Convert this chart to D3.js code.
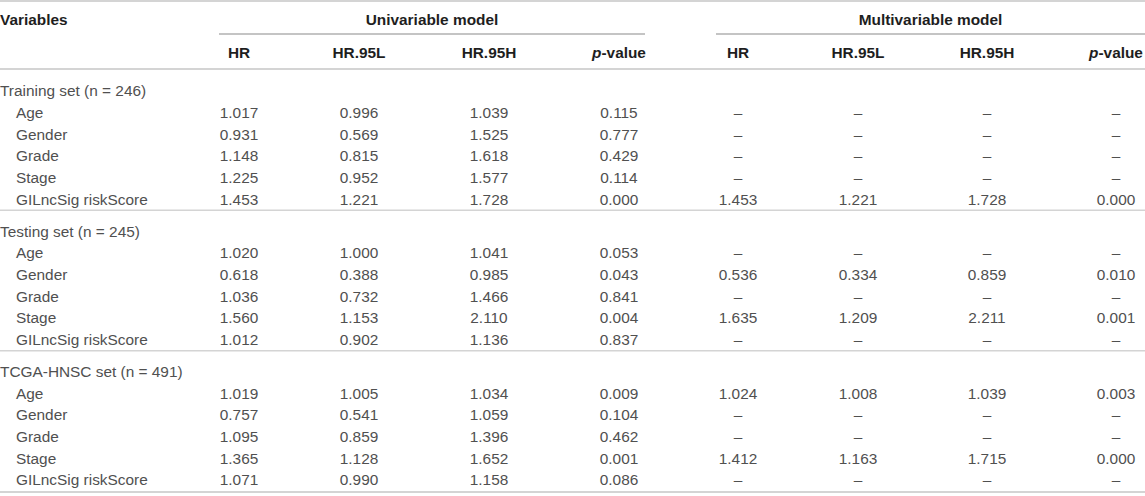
<!DOCTYPE html>
<html>
<head>
<meta charset="utf-8">
<script src="https://cdn.jsdelivr.net/npm/d3@7/dist/d3.min.js"></script>
<style>
  body { margin: 0; background: #fff; }
  svg text { font-family: "Liberation Sans", Arial, Helvetica, sans-serif; font-size: 15.4px; }
</style>
</head>
<body>
<div id="table"></div>
<script>
// table content
var sections = ["Training set (n = 246)", "Testing set (n = 245)", "TCGA-HNSC set (n = 491)"];
var variables = ["Age", "Gender", "Grade", "Stage", "GILncSig riskScore"];
var groupNames = ["Univariable model", "Multivariable model"];
var colNames = ["HR", "HR.95L", "HR.95H", "p-value"];

// univariable, one array per section: [HR, HR.95L, HR.95H, p] per variable
var uniTraining = [[1.017, 0.996, 1.039, 0.115], [0.931, 0.569, 1.525, 0.777], [1.148, 0.815, 1.618, 0.429], [1.225, 0.952, 1.577, 0.114], [1.453, 1.221, 1.728, 0.000]];
var uniTesting = [[1.020, 1.000, 1.041, 0.053], [0.618, 0.388, 0.985, 0.043], [1.036, 0.732, 1.466, 0.841], [1.560, 1.153, 2.110, 0.004], [1.012, 0.902, 1.136, 0.837]];
var uniTcga = [[1.019, 1.005, 1.034, 0.009], [0.757, 0.541, 1.059, 0.104], [1.095, 0.859, 1.396, 0.462], [1.365, 1.128, 1.652, 0.001], [1.071, 0.990, 1.158, 0.086]];

// multivariable, null = not in model
var multiTraining = [null, null, null, null, [1.453, 1.221, 1.728, 0.000]];
var multiTesting = [null, [0.536, 0.334, 0.859, 0.010], null, [1.635, 1.209, 2.211, 0.001], null];
var multiTcga = [[1.024, 1.008, 1.039, 0.003], null, null, [1.412, 1.163, 1.715, 0.000], null];

var uniAll = [uniTraining, uniTesting, uniTcga];
var multiAll = [multiTraining, multiTesting, multiTcga];

var W = 1145, H = 496;
var svg = d3.select("#table").append("svg")
  .attr("width", W)
  .attr("height", H);

var fmt = d3.format(".3f");
var bodyColor = "#505050";
var headColor = "#1e1e1e";
var ruleColor = "#d4d4d4";

// column centres
var colX = [239, 359, 489, 619, 738, 858, 987, 1116];
var groupSpan = [[219, 645], [716, 1145]];

// row positions: 18 body rows, extra gap after each section
var rowStep = 21.65, sectionGap = 10.5, firstRow = 91;
var y = d3.scaleLinear().domain([0, 1]).range([firstRow, firstRow + rowStep]);
function rowY(i) { return y(i) + Math.floor(i / 6) * sectionGap; }

// build flat rows
var rows = [];
sections.forEach(function (s, si) {
  rows.push({ label: s, indent: 0, cells: null });
  variables.forEach(function (v, vi) {
    var u = uniAll[si][vi];
    var m = multiAll[si][vi];
    var cells = u.map(fmt).concat(m ? m.map(fmt) : ["–", "–", "–", "–"]);
    rows.push({ label: v, indent: 16, cells: cells });
  });
});
rows.forEach(function (r, i) { r.y = rowY(i); });

// horizontal rules
function rule(x1, x2, yy, color, w) {
  svg.append("line")
    .attr("x1", x1).attr("x2", x2)
    .attr("y1", yy).attr("y2", yy)
    .attr("stroke", color)
    .attr("stroke-width", w);
}
rule(0, W, 1, ruleColor, 2);
rule(0, W, 69, ruleColor, 2);
rule(0, W, rowY(5) + 11, ruleColor, 1.5);
rule(0, W, rowY(11) + 11, ruleColor, 1.5);
rule(0, W, rowY(17) + 12, ruleColor, 2);
groupSpan.forEach(function (g) { rule(g[0], g[1], 34, "#8a8a8a", 1.2); });

// header
svg.append("text")
  .attr("x", 0).attr("y", 20)
  .attr("dy", "0.35em")
  .attr("font-weight", "bold")
  .attr("fill", headColor)
  .text("Variables");

svg.selectAll("text.group")
  .data(groupNames)
  .enter()
  .append("text")
  .attr("class", "group")
  .attr("x", (d, i) => (groupSpan[i][0] + groupSpan[i][1]) / 2)
  .attr("y", 20)
  .attr("dy", "0.35em")
  .attr("text-anchor", "middle")
  .attr("font-weight", "bold")
  .attr("fill", headColor)
  .text(d => d);

var heads = svg.selectAll("text.colhead")
  .data(colNames.concat(colNames))
  .enter()
  .append("text")
  .attr("class", "colhead")
  .attr("x", (d, i) => colX[i])
  .attr("y", 53)
  .attr("dy", "0.35em")
  .attr("text-anchor", "middle")
  .attr("font-weight", "bold")
  .attr("fill", headColor);

heads.each(function (d) {
  var t = d3.select(this);
  if (d === "p-value") {
    t.append("tspan").attr("font-style", "italic").text("p");
    t.append("tspan").text("-value");
  } else {
    t.text(d);
  }
});

// body
var rowG = svg.selectAll("g.row")
  .data(rows)
  .enter()
  .append("g")
  .attr("class", "row")
  .attr("transform", d => `translate(0, ${d.y})`);

rowG.append("text")
  .attr("x", d => d.indent)
  .attr("dy", "0.35em")
  .attr("fill", bodyColor)
  .text(d => d.label);

rowG.selectAll("text.cell")
  .data(d => d.cells || [])
  .enter()
  .append("text")
  .attr("class", "cell")
  .attr("x", (d, i) => colX[i])
  .attr("dy", "0.35em")
  .attr("text-anchor", "middle")
  .attr("fill", bodyColor)
  .text(d => d);
</script>
</body>
</html>
